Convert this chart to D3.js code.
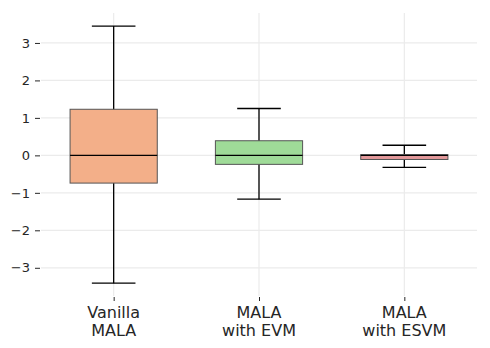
<!DOCTYPE html>
<html>
<head>
<meta charset="utf-8">
<script src="https://cdn.jsdelivr.net/npm/d3@7"></script>
<style>
  body { margin: 0; background: #fff; }
  text { font-family: "DejaVu Sans", sans-serif; fill: #262626; }
</style>
</head>
<body>
<div id="main"></div>
<script>
// **** Data ****
var methods = ["Vanilla\nMALA", "MALA\nwith EVM", "MALA\nwith ESVM"];
var whiskerLow = [-3.41, -1.17, -0.32];
var q1 = [-0.74, -0.24, -0.11];
var medians = [0.0, 0.0, 0.0];
var q3 = [1.23, 0.39, 0.02];
var whiskerHigh = [3.45, 1.25, 0.27];
var fills = ["#F3AF89", "#9FDB98", "#E3999B"];
var yTicks = [-3, -2, -1, 0, 1, 2, 3];

var boxes = methods.map(function(m, i) {
  return {name: m, lo: whiskerLow[i], q1: q1[i], med: medians[i], q3: q3[i], hi: whiskerHigh[i], fill: fills[i]};
});

// **** Dimensions ****
var width = 490, height = 348;
var plot = {left: 41, right: 477, top: 13, bottom: 296};

var svg = d3.select("#main")
  .append("svg")
    .attr("width", width)
    .attr("height", height);

var x = d3.scaleLinear()
    .domain([0.5, 3.5])
    .range([plot.left, plot.right]);

var y = d3.scaleLinear()
    .domain([-3.753, 3.799])
    .range([plot.bottom, plot.top]);

var boxW = 0.6, capW = 0.3;

// **** Grid ****
svg.append("g")
  .selectAll("line")
  .data(yTicks)
  .enter()
  .append("line")
    .attr("x1", plot.left)
    .attr("x2", plot.right)
    .attr("y1", function(d) { return y(d); })
    .attr("y2", function(d) { return y(d); })
    .style("stroke", "#ebebeb")
    .style("stroke-width", 1.2);

svg.append("g")
  .selectAll("line")
  .data(boxes)
  .enter()
  .append("line")
    .attr("x1", function(d, i) { return x(i + 1); })
    .attr("x2", function(d, i) { return x(i + 1); })
    .attr("y1", plot.top)
    .attr("y2", plot.bottom)
    .style("stroke", "#ebebeb")
    .style("stroke-width", 1.2);

// **** Axes ****
var yAxis = svg.append("g")
    .attr("transform", "translate(" + (plot.left - 1) + ",0)")
    .call(d3.axisLeft(y).tickValues(yTicks).tickSize(5).tickPadding(5)
      .tickFormat(function(d) { return d < 0 ? "\u2212" + Math.abs(d) : d; }));
yAxis.select(".domain").remove();
yAxis.selectAll("line").style("stroke", "#262626");
yAxis.selectAll("text").style("font-size", "13px").style("fill", "#262626");

var xAxis = svg.append("g")
    .attr("transform", "translate(0," + (plot.bottom + 1) + ")")
    .call(d3.axisBottom(x).tickValues([1, 2, 3]).tickSize(4).tickFormat(""));
xAxis.select(".domain").remove();
xAxis.selectAll("line").style("stroke", "#262626");

svg.append("g")
  .selectAll("text")
  .data(boxes)
  .enter()
  .append("text")
    .attr("x", function(d, i) { return x(i + 1); })
    .attr("y", 318)
    .attr("text-anchor", "middle")
    .style("font-size", "16px")
    .each(function(d) {
      var lines = d.name.split("\n");
      var t = d3.select(this);
      lines.forEach(function(l, k) {
        t.append("tspan")
          .attr("x", t.attr("x"))
          .attr("dy", k === 0 ? 0 : 18)
          .text(l);
      });
    });

// **** Boxes ****
var g = svg.append("g")
  .selectAll("g")
  .data(boxes)
  .enter()
  .append("g");

g.append("line")
    .attr("x1", function(d, i) { return x(i + 1); })
    .attr("x2", function(d, i) { return x(i + 1); })
    .attr("y1", function(d) { return y(d.hi); })
    .attr("y2", function(d) { return y(d.lo); })
    .style("stroke", "#000")
    .style("stroke-width", 1.3);

g.append("rect")
    .attr("x", function(d, i) { return x(i + 1 - boxW / 2); })
    .attr("width", x(1 + boxW) - x(1))
    .attr("y", function(d) { return y(d.q3); })
    .attr("height", function(d) { return y(d.q1) - y(d.q3); })
    .style("fill", function(d) { return d.fill; })
    .style("stroke", "#555")
    .style("stroke-width", 1);

g.selectAll(".cap")
  .data(function(d, i) { return [{v: d.hi, i: i}, {v: d.lo, i: i}]; })
  .enter()
  .append("line")
    .attr("x1", function(d) { return x(d.i + 1 - capW / 2); })
    .attr("x2", function(d) { return x(d.i + 1 + capW / 2); })
    .attr("y1", function(d) { return y(d.v); })
    .attr("y2", function(d) { return y(d.v); })
    .style("stroke", "#000")
    .style("stroke-width", 1.3);

g.append("line")
    .attr("x1", function(d, i) { return x(i + 1 - boxW / 2); })
    .attr("x2", function(d, i) { return x(i + 1 + boxW / 2); })
    .attr("y1", function(d) { return y(d.med); })
    .attr("y2", function(d) { return y(d.med); })
    .style("stroke", "#000")
    .style("stroke-width", 1.3);
</script>
</body>
</html>
